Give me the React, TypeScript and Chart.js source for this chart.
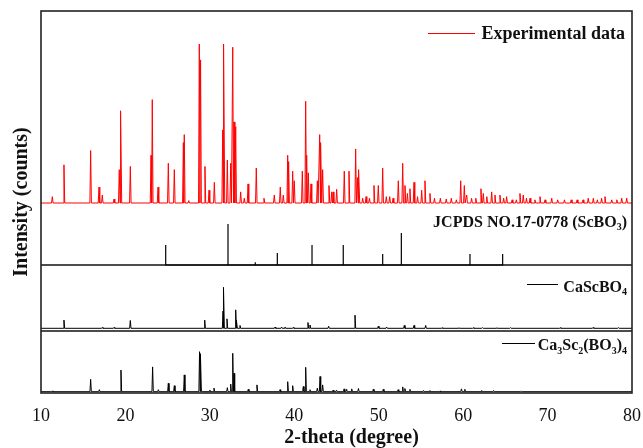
import React, { useEffect, useRef } from "react";
import { Chart, registerables } from "chart.js";

Chart.register(...registerables);

// ---- Data (2-theta in degrees, relative intensity in %) ----
const expPos = [
  11.34, 12.72, 15.88, 16.87, 17.26, 18.65, 19.27, 19.47, 20.58, 23.03, 23.18, 23.86,
  25.08, 25.79, 26.86, 26.97, 27.5, 28.75, 28.9, 29.42, 29.9, 30.53, 31.52, 31.67,
  32.07, 32.47, 32.71, 32.86, 33.06, 33.65, 34.08, 34.52, 35.5, 36.41, 37.63, 38.34,
  38.7, 39.22, 39.33, 39.81, 40.0, 40.95, 41.35, 41.47, 41.66, 41.98, 42.73, 43.01,
  43.16, 43.36, 44.11, 44.43, 44.6, 45.02, 45.92, 46.48, 47.27, 47.47, 47.66, 48.1,
  48.5, 48.9, 49.44, 49.95, 50.47, 50.9, 51.3, 51.7, 52.32, 52.84, 53.11, 53.4, 53.7,
  54.18, 54.6, 55.09, 55.48, 56.07, 56.6, 57.3, 58.0, 58.6, 59.2, 59.71, 60.14, 60.42,
  61.0, 61.5, 62.11, 62.39, 62.8, 63.38, 63.77, 64.36, 64.8, 65.15, 65.8, 66.3, 66.73,
  67.12, 67.5, 67.92, 68.5, 69.1, 69.7, 70.49, 71.2, 72.0, 72.8, 73.5, 74.2, 74.82,
  75.42, 75.9, 76.4, 76.8, 77.6, 78.2, 78.78, 79.37,
];
const expInt = [
  4, 24, 33, 10, 5, 2.5, 21, 58, 23, 30, 65, 10,
  25, 21, 38, 43, 1.5, 100, 90, 23, 8, 13, 46, 100,
  27, 25, 98, 51, 48, 7, 3, 12, 22, 3, 5, 10,
  5, 30, 26, 20, 14, 20, 64, 30, 19, 12, 14, 43,
  38, 21, 11, 7, 7, 8.6, 20, 20, 34, 16, 21, 3,
  4, 3, 11, 11, 22, 4, 4, 3, 14, 25, 11, 6, 9,
  13, 4, 8, 14, 6, 3, 3, 2.5, 3, 2, 14, 11, 5,
  3, 3, 9, 6, 4, 7, 5, 5, 3, 4, 2, 2, 6,
  5, 3, 3, 2, 4, 2, 3, 2, 2, 2, 2, 2, 3,
  3, 2, 3, 4, 2, 2, 3, 3,
];

const jcpdsPos = [24.77, 32.15, 35.38, 37.99, 42.1, 45.8, 50.47, 52.68, 60.81, 64.68];
const jcpdsInt = [49, 100, 7, 29, 49, 49, 27, 78, 27, 27];

const caPos = [
  12.72, 17.26, 18.65, 20.58, 29.39, 31.56, 31.64, 32.03, 33.06, 33.18, 33.57, 37.72,
  38.5, 38.9, 39.88, 41.62, 41.86, 44.07, 47.19, 49.95, 50.94, 53.03, 54.18, 55.56,
  57.5, 59.5, 61.2, 62.3, 64.0, 65.6, 71.5, 75.4, 78.4,
];
const caInt = [
  20, 2, 2, 19, 20, 42, 100, 23, 45, 20, 7, 3,
  3, 3, 2, 14, 8, 5, 32, 5, 3, 7, 7, 7,
  1.5, 1.5, 1.5, 1.5, 1.5, 1.5, 1.5, 2, 1.5,
];

const ca3Pos = [
  11.34, 15.88, 16.91, 19.47, 23.22, 23.9, 25.08, 25.79, 26.97, 28.78, 28.92, 30.0,
  30.49, 32.07, 32.47, 32.71, 32.86, 34.55, 35.58, 38.31, 39.22, 39.81, 41.07, 41.35,
  41.86, 42.73, 43.05, 43.36, 44.6, 45.0, 45.9, 46.2, 46.8, 47.6, 49.36, 50.54, 52.3,
  52.84, 53.1, 53.7, 55.3, 56.07, 57.26, 59.8, 60.2, 62.2, 63.6, 66.9,
];
const ca3Int = [
  2, 31, 5, 54, 62, 5, 21, 15, 42, 100, 95, 4,
  9, 10, 19, 96, 46, 6, 17, 5, 25, 15, 13, 61,
  5, 9, 38, 17, 4, 4, 7, 6, 7, 8, 6, 6, 5,
  12, 8, 6, 3, 3, 2, 7, 6, 3, 3, 2,
];

const xTicks = [10, 20, 30, 40, 50, 60, 70, 80];
const xMin = 10;
const xMax = 80;

// ---- Panel layout on the shared y scale (0..382) ----
const Y_MAX = 382;
const PANEL_EXP = { base: 190, span: 159 };
const PANEL_JCPDS = { base: 128, span: 41 };
const PANEL_CA = { base: 64.7, span: 41 };
const PANEL_CA3 = { base: 1.3, span: 40 };
const separators = [128, 62];

const SERIF = '"Liberation Serif", "Times New Roman", serif';

type Pt = { x: number; y: number };

function profile(pos: number[], ints: number[], panel: { base: number; span: number }, hw: number): Pt[] {
  const idx = pos.map((_, i) => i).sort((a, b) => pos[a] - pos[b]);
  const pts: Pt[] = [{ x: xMin, y: panel.base }];
  for (const i of idx) {
    const p = pos[i];
    pts.push({ x: p - hw, y: panel.base });
    pts.push({ x: p, y: panel.base + (ints[i] * panel.span) / 100 });
    pts.push({ x: p + hw, y: panel.base });
  }
  pts.push({ x: xMax, y: panel.base });
  return pts;
}

function sticks(pos: number[], ints: number[], panel: { base: number; span: number }): Pt[] {
  const pts: Pt[] = [];
  pos.forEach((p, i) => {
    pts.push({ x: p, y: panel.base });
    pts.push({ x: p, y: panel.base + (ints[i] * panel.span) / 100 });
    pts.push({ x: p, y: panel.base });
  });
  return pts;
}

type Seg = { t: string; sub?: boolean };

function drawRich(ctx: CanvasRenderingContext2D, segs: Seg[], rightX: number, baseY: number, size: number) {
  const main = `bold ${size}px ${SERIF}`;
  const small = `bold ${Math.round(size * 0.62)}px ${SERIF}`;
  let total = 0;
  for (const s of segs) {
    ctx.font = s.sub ? small : main;
    total += ctx.measureText(s.t).width;
  }
  let x = rightX - total;
  ctx.textAlign = "left";
  ctx.textBaseline = "alphabetic";
  for (const s of segs) {
    ctx.font = s.sub ? small : main;
    ctx.fillText(s.t, x, s.sub ? baseY + size * 0.22 : baseY);
    x += ctx.measureText(s.t).width;
  }
}

const decorPlugin = {
  id: "decor",
  afterDraw(chart: any) {
    const { ctx, chartArea } = chart;
    const { left, right, top, bottom } = chartArea;
    ctx.save();
    // frame
    ctx.strokeStyle = "#222";
    ctx.lineWidth = 1.6;
    ctx.strokeRect(left, top, right - left, bottom - top);

    ctx.fillStyle = "#111";
    // legend: experimental
    ctx.strokeStyle = "#ff0000";
    ctx.lineWidth = 1;
    ctx.beginPath();
    ctx.moveTo(428, 33.5);
    ctx.lineTo(475, 33.5);
    ctx.stroke();
    drawRich(ctx, [{ t: "Experimental data" }], 625, 38.5, 18);

    // JCPDS label
    drawRich(ctx, [{ t: "JCPDS NO.17-0778 (ScBO" }, { t: "3", sub: true }, { t: ")" }], 627, 226.5, 16);

    // CaScBO4
    ctx.strokeStyle = "#000";
    ctx.lineWidth = 1;
    ctx.beginPath();
    ctx.moveTo(527, 284.5);
    ctx.lineTo(558, 284.5);
    ctx.stroke();
    drawRich(ctx, [{ t: "CaScBO" }, { t: "4", sub: true }], 627, 291.5, 16);

    // Ca3Sc2(BO3)4
    ctx.beginPath();
    ctx.moveTo(502, 343.5);
    ctx.lineTo(535, 343.5);
    ctx.stroke();
    drawRich(
      ctx,
      [{ t: "Ca" }, { t: "3", sub: true }, { t: "Sc" }, { t: "2", sub: true }, { t: "(BO" }, { t: "3", sub: true }, { t: ")" }, { t: "4", sub: true }],
      627,
      350,
      16
    );

    // x-axis title
    ctx.font = `bold 20px ${SERIF}`;
    ctx.textAlign = "center";
    ctx.textBaseline = "alphabetic";
    ctx.fillStyle = "#111";
    ctx.fillText("2-theta (degree)", (left + right) / 2 + 15, 443);
    ctx.restore();
  },
};

export default function App() {
  const ref = useRef<HTMLCanvasElement | null>(null);

  useEffect(() => {
    if (!ref.current) return;
    const line = (data: Pt[], color: string, width: number) => ({
      type: "line" as const,
      data,
      borderColor: color,
      borderWidth: width,
      pointRadius: 0,
      tension: 0,
      fill: false,
      parsing: false as const,
    });
    const chart = new Chart(ref.current, {
      type: "line",
      data: {
        datasets: [
          line(profile(expPos, expInt, PANEL_EXP, 0.09), "#ff0000", 1),
          line(sticks(jcpdsPos, jcpdsInt, PANEL_JCPDS), "#000000", 1.2),
          line(profile(caPos, caInt, PANEL_CA, 0.08), "#000000", 1),
          line(profile(ca3Pos, ca3Int, PANEL_CA3, 0.08), "#000000", 1),
          ...separators.map((v) =>
            line(
              [
                { x: xMin, y: v },
                { x: xMax, y: v },
              ],
              "#111111",
              1.6
            )
          ),
        ],
      },
      options: {
        animation: false,
        responsive: false,
        devicePixelRatio: 1,
        layout: { padding: { left: 0, right: 11, top: 11, bottom: 0 } },
        plugins: { legend: { display: false }, tooltip: { enabled: false } },
        scales: {
          x: {
            type: "linear",
            min: xMin,
            max: xMax,
            grid: { display: false, drawTicks: false },
            border: { display: false },
            afterBuildTicks: (scale: any) => {
              scale.ticks = xTicks.map((v) => ({ value: v }));
            },
            afterFit: (scale: any) => {
              scale.height = 55;
              scale.paddingLeft = 0;
              scale.paddingRight = 0;
            },
            ticks: {
              padding: 12,
              color: "#111",
              font: { family: SERIF, size: 18 },
              maxRotation: 0,
              autoSkip: false,
            },
          },
          y: {
            type: "linear",
            min: 0,
            max: Y_MAX,
            grid: { display: false, drawTicks: false },
            border: { display: false },
            ticks: { display: false },
            afterFit: (scale: any) => {
              scale.width = 41;
              scale.paddingTop = 0;
              scale.paddingBottom = 0;
            },
            title: {
              display: true,
              text: "Intensity (counts)",
              color: "#111",
              padding: { top: 10, bottom: 0 },
              font: { family: SERIF, size: 20, weight: "bold" },
            },
          },
        },
      },
      plugins: [decorPlugin],
    });
    return () => chart.destroy();
  }, []);

  return (
    <div style={{ position: "fixed", left: 0, top: 0, width: 643, height: 448, background: "#fff" }}>
      <canvas ref={ref} width={643} height={448} style={{ display: "block", width: 643, height: 448 }} />
    </div>
  );
}
